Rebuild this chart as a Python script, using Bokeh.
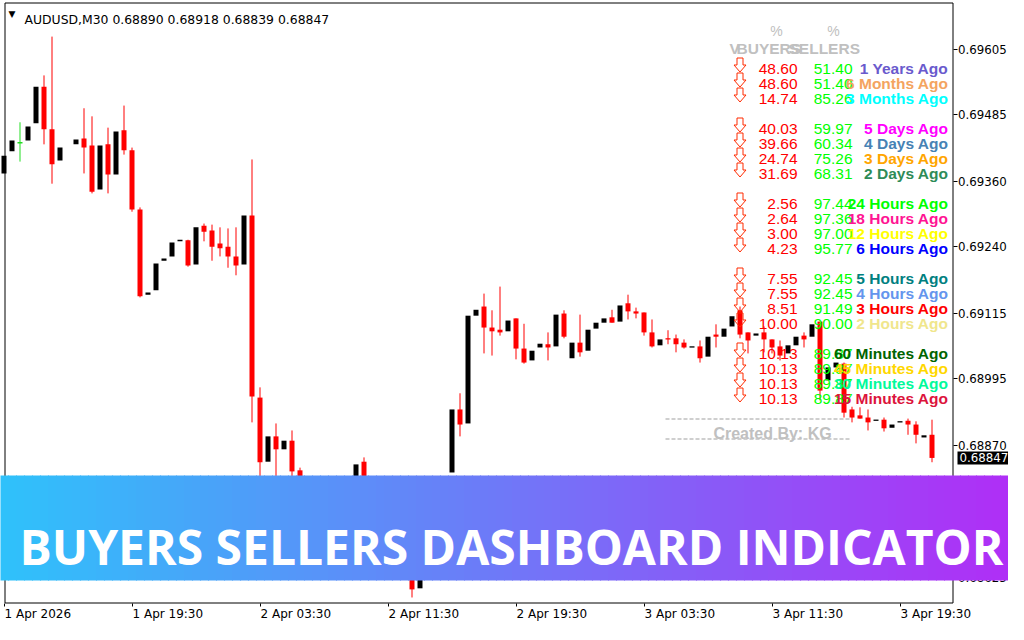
import numpy as np
from bokeh.plotting import figure
from bokeh.models import Range1d, FixedTicker, BoxAnnotation, Label
from bokeh.embed import file_html
from bokeh.resources import INLINE
from bokeh.core.properties import value

# ---------------- data ----------------
symbol_title = "AUDUSD,M30  0.68890 0.68918 0.68839 0.68847"
last_price = 0.68847

opens = [0.69375, 0.69416, 0.69432, 0.69436, 0.69468, 0.69536, 0.69457, 0.69399, None, 0.69429,
         0.69440, 0.69427, 0.69345, 0.69429, 0.69373, 0.69455, 0.69418, 0.69308, 0.69150, 0.69158,
         0.69213, 0.69221, 0.69249, 0.69251, 0.69206, 0.69278, 0.69269, 0.69245, 0.69239, 0.69221,
         0.69206, 0.69297, 0.68959, 0.68840, 0.68887, 0.68863, 0.68879, 0.68824, 0.68787, 0.68749,
         0.68759, 0.68716, 0.68684, 0.68703, 0.68768, 0.68840, 0.68809, 0.68768, 0.68731, 0.68740,
         0.68684, 0.68638, 0.68605, 0.68647, 0.68694, 0.68731, 0.68820, 0.68937, 0.68911, 0.69111,
         0.69128, 0.69089, 0.69085, 0.69082, 0.69106, 0.69050, 0.69028, 0.69052, 0.69058, 0.69054,
         0.69115, 0.69032, 0.69061, 0.69046, 0.69087, 0.69098, 0.69108, 0.69100, 0.69134, 0.69119,
         0.69117, 0.69080, 0.69056, 0.69069, 0.69069, 0.69061, 0.69052, 0.69054, 0.69035, 0.69076,
         0.69072, 0.69091, 0.69121, 0.69080, 0.69074, 0.69080, 0.69067, 0.69054, 0.69041, 0.69056,
         0.69074, 0.69072, 0.69100, 0.68991, 0.69015, 0.69022, 0.68937, 0.68926, 0.68922, 0.68916,
         0.68918, 0.68903, 0.68913, 0.68916, 0.68909, 0.68885, 0.68890]
highs = [0.69408, 0.69436, 0.69470, 0.69462, 0.69536, 0.69557, 0.69629, 0.69423, None, 0.69438,
         0.69496, 0.69481, 0.69427, 0.69460, 0.69453, 0.69501, 0.69423, 0.69312, 0.69154, 0.69208,
         0.69217, 0.69247, 0.69252, 0.69252, 0.69275, 0.69282, 0.69280, 0.69275, 0.69273, 0.69275,
         0.69297, 0.69401, 0.68978, 0.68887, 0.68911, 0.68879, 0.68898, 0.68829, 0.68796, 0.68768,
         0.68768, 0.68727, 0.68703, 0.68768, 0.68835, 0.68848, 0.68813, 0.68770, 0.68749, 0.68749,
         0.68690, 0.68647, 0.68647, 0.68694, 0.68731, 0.68805, 0.68937, 0.68967, 0.69111, 0.69122,
         0.69152, 0.69121, 0.69165, 0.69102, 0.69106, 0.69096, 0.69046, 0.69059, 0.69080, 0.69113,
         0.69121, 0.69061, 0.69113, 0.69085, 0.69098, 0.69106, 0.69122, 0.69130, 0.69150, 0.69126,
         0.69117, 0.69104, 0.69067, 0.69084, 0.69076, 0.69067, 0.69054, 0.69065, 0.69072, 0.69095,
         0.69087, 0.69110, 0.69128, 0.69080, 0.69078, 0.69091, 0.69067, 0.69065, 0.69056, 0.69072,
         0.69080, 0.69095, 0.69100, 0.69015, 0.69024, 0.69024, 0.68942, 0.68941, 0.68937, 0.68918,
         0.68922, 0.68909, 0.68915, 0.68920, 0.68915, 0.68889, 0.68918]
lows = [0.69375, 0.69416, 0.69397, 0.69436, 0.69468, 0.69429, 0.69356, 0.69399, None, 0.69429,
        0.69375, 0.69338, 0.69345, 0.69338, 0.69373, 0.69410, 0.69304, 0.69145, 0.69150, 0.69158,
        0.69213, 0.69221, 0.69249, 0.69202, 0.69206, 0.69249, 0.69213, 0.69221, 0.69200, 0.69186,
        0.69206, 0.68913, 0.68801, 0.68840, 0.68809, 0.68863, 0.68805, 0.68777, 0.68740, 0.68749,
        0.68703, 0.68675, 0.68684, 0.68703, 0.68768, 0.68801, 0.68759, 0.68725, 0.68731, 0.68680,
        0.68632, 0.68588, 0.68605, 0.68647, 0.68694, 0.68731, 0.68820, 0.68887, 0.68911, 0.69111,
        0.69041, 0.69037, 0.69074, 0.69082, 0.69030, 0.69022, 0.69028, 0.69052, 0.69028, 0.69054,
        0.69069, 0.69032, 0.69035, 0.69046, 0.69087, 0.69098, 0.69098, 0.69100, 0.69104, 0.69106,
        0.69074, 0.69052, 0.69056, 0.69058, 0.69043, 0.69050, 0.69052, 0.69024, 0.69035, 0.69052,
        0.69072, 0.69091, 0.69069, 0.69041, 0.69074, 0.69043, 0.69041, 0.69028, 0.69041, 0.69056,
        0.69052, 0.69072, 0.68954, 0.68991, 0.69015, 0.68922, 0.68913, 0.68920, 0.68898, 0.68916,
        0.68896, 0.68903, 0.68913, 0.68890, 0.68874, 0.68885, 0.68839]
closes = [0.69408, 0.69436, 0.69432, 0.69462, 0.69536, 0.69457, 0.69392, 0.69423, None, 0.69438,
          0.69423, 0.69341, 0.69427, 0.69373, 0.69453, 0.69418, 0.69308, 0.69147, 0.69154, 0.69208,
          0.69217, 0.69247, 0.69252, 0.69204, 0.69275, 0.69267, 0.69239, 0.69236, 0.69221, 0.69204,
          0.69297, 0.68961, 0.68839, 0.68887, 0.68863, 0.68879, 0.68822, 0.68787, 0.68749, 0.68768,
          0.68712, 0.68684, 0.68703, 0.68768, 0.68835, 0.68809, 0.68768, 0.68731, 0.68749, 0.68684,
          0.68638, 0.68603, 0.68647, 0.68694, 0.68731, 0.68805, 0.68937, 0.68909, 0.69111, 0.69122,
          0.69089, 0.69082, 0.69080, 0.69102, 0.69050, 0.69024, 0.69046, 0.69059, 0.69052, 0.69113,
          0.69072, 0.69061, 0.69043, 0.69085, 0.69098, 0.69106, 0.69098, 0.69130, 0.69119, 0.69115,
          0.69080, 0.69054, 0.69067, 0.69067, 0.69058, 0.69052, 0.69054, 0.69032, 0.69072, 0.69072,
          0.69087, 0.69110, 0.69076, 0.69065, 0.69078, 0.69067, 0.69052, 0.69037, 0.69056, 0.69072,
          0.69067, 0.69095, 0.68972, 0.69015, 0.69024, 0.68931, 0.68922, 0.68920, 0.68913, 0.68918,
          0.68902, 0.68909, 0.68915, 0.68909, 0.68890, 0.68889, 0.68847]

price_ticks = [0.69605, 0.69485, 0.69360, 0.69240, 0.69115, 0.68995, 0.68870, 0.68750, 0.68625]
price_tick_labels = ["0.69605", "0.69485", "0.69360", "0.69240", "0.69115", "0.68995",
                     "0.68870", "0.68750", "0.68625"]
date_tick_bars = [0, 16, 32, 48, 64, 80, 96, 112]
date_tick_labels = ["1 Apr 2026", "1 Apr 19:30", "2 Apr 03:30", "2 Apr 11:30",
                    "2 Apr 19:30", "3 Apr 03:30", "3 Apr 11:30", "3 Apr 19:30"]

periods = ["1 Years Ago", "6 Months Ago", "3 Months Ago",
           "5 Days Ago", "4 Days Ago", "3 Days Ago", "2 Days Ago",
           "24 Hours Ago", "18 Hours Ago", "12 Hours Ago", "6 Hours Ago",
           "5 Hours Ago", "4 Hours Ago", "3 Hours Ago", "2 Hours Ago",
           "60 Minutes Ago", "45 Minutes Ago", "30 Minutes Ago", "15 Minutes Ago"]
buyers_pct = [48.60, 48.60, 14.74, 40.03, 39.66, 24.74, 31.69, 2.56, 2.64, 3.00, 4.23,
              7.55, 7.55, 8.51, 10.00, 10.13, 10.13, 10.13, 10.13]
sellers_pct = [51.40, 51.40, 85.26, 59.97, 60.34, 75.26, 68.31, 97.44, 97.36, 97.00, 95.77,
               92.45, 92.45, 91.49, 90.00, 89.87, 89.87, 89.87, 89.87]
period_colors = ["#6A5ACD", "#F4A460", "#00FFFF", "#FF00FF", "#4682B4", "#FFA500", "#2E8B57",
                 "#00FF00", "#FF1493", "#FFFF00", "#0000FF", "#008080", "#6495ED", "#FF0000",
                 "#F0E68C", "#006400", "#FFD700", "#00FA9A", "#DC143C"]
group_sizes = [3, 4, 4, 4, 4]
banner_text = "BUYERS SELLERS DASHBOARD INDICATOR"
credit_text = "Created By: KG"

# ---------------- layout helpers (pixel geometry of the reference) ----------------
W, H = 1008, 624
PXC = 8.0             # pixels per bar
DPP = 1.856e-5        # price per pixel
X_START = -3.5 / PXC  # bar k is centred on pixel 3.5 + 8k
Y_TOP = 0.69696       # price at pixel row 0
AXIS_Y = 602.5        # bottom border / time axis row


def X(px):
    return X_START + px / PXC


def Y(py):
    return Y_TOP - py * DPP


p = figure(width=W, height=H, output_backend="svg", toolbar_location=None,
           x_range=Range1d(X(0), X(W)), y_range=Range1d(Y(H), Y(0)),
           y_axis_location="right",
           min_border_left=0, min_border_top=0, min_border_right=0, min_border_bottom=0)
p.xgrid.visible = False
p.ygrid.visible = False
p.outline_line_color = None
p.background_fill_color = "white"
p.border_fill_color = "white"

# chart border (MT4 frame)
p.segment(x0=[X(4.5), X(4.5), X(952.5), X(4.5)], y0=[Y(2.5), Y(2.5), Y(2.5), Y(AXIS_Y)],
          x1=[X(952.5), X(4.5), X(952.5), X(952.5)], y1=[Y(2.5), Y(AXIS_Y), Y(AXIS_Y), Y(AXIS_Y)],
          line_color="black", line_width=1)

# price axis (right), pinned at the frame border
yax = p.yaxis[0]
yax.fixed_location = X(952.5)
yax.ticker = FixedTicker(ticks=price_ticks)
yax.major_label_overrides = {t: s for t, s in zip(price_ticks, price_tick_labels)}
yax.major_tick_out = 4
yax.major_tick_in = 0
yax.minor_tick_out = 0
yax.minor_tick_in = 0
yax.major_label_standoff = 1
yax.axis_line_color = None
yax.major_tick_line_color = "black"
yax.major_label_text_font = "DejaVu Sans"
yax.major_label_text_font_size = "11.8px"
yax.major_label_text_color = "black"

# time axis (bottom): tick marks at the bars, labels start at the tick
label_half = [33.3, 35.3, 35.3, 35.3, 35.3, 35.3, 35.3, 35.3]
label_pos = [b + (0.5 + h) / PXC for b, h in zip(date_tick_bars, label_half)]
xax = p.xaxis[0]
xax.fixed_location = Y(AXIS_Y)
xax.ticker = FixedTicker(ticks=label_pos, minor_ticks=list(date_tick_bars))
xax.major_label_overrides = {t: s for t, s in zip(label_pos, date_tick_labels)}
xax.major_tick_out = 0
xax.major_tick_in = 0
xax.minor_tick_out = 3
xax.minor_tick_in = 0
xax.minor_tick_line_color = "black"
xax.major_label_standoff = 1
xax.axis_line_color = None
xax.major_label_text_font = "DejaVu Sans"
xax.major_label_text_font_size = "12px"
xax.major_label_text_color = "black"

# ---------------- candles ----------------
idx = [k for k in range(len(opens)) if opens[k] is not None]
MIN_BODY = 1.3 * DPP


def body(k):
    top, bot = max(opens[k], closes[k]), min(opens[k], closes[k])
    if top - bot < MIN_BODY:
        mid = (top + bot) / 2
        top, bot = mid + MIN_BODY / 2, mid - MIN_BODY / 2
    return top, bot


bear = [k for k in idx if closes[k] < opens[k]]
bull = [k for k in idx if closes[k] > opens[k]]
doji = [k for k in idx if closes[k] == opens[k]]

p.segment(x0=bear, x1=bear, y0=[lows[k] for k in bear], y1=[highs[k] for k in bear],
          line_color="#FF0000", line_width=1)
p.vbar(x=bear, width=5 / PXC, top=[body(k)[0] for k in bear], bottom=[body(k)[1] for k in bear],
       fill_color="#FF0000", line_color=None)
p.vbar(x=bull, width=5 / PXC, top=[body(k)[0] for k in bull], bottom=[body(k)[1] for k in bull],
       fill_color="black", line_color=None)
p.segment(x0=doji, x1=doji, y0=[lows[k] for k in doji], y1=[highs[k] for k in doji],
          line_color="#22DD22", line_width=1)
p.vbar(x=doji, width=5 / PXC, top=[body(k)[0] for k in doji], bottom=[body(k)[1] for k in doji],
       fill_color="#22DD22", line_color=None)

# ---------------- title ----------------
p.text(x=[X(11.5)], y=[Y(13.5)], text=["\u25BC"], text_align="center", text_baseline="middle",
       text_font=value("DejaVu Sans"), text_font_size="9px", text_color="black")
p.text(x=[X(24)], y=[Y(19)], text=[symbol_title], text_align="left", text_baseline="alphabetic",
       text_font=value("DejaVu Sans"), text_font_size="12.4px", text_color="black")

# ---------------- dashboard ----------------
slots = []
s = 0
for g in group_sizes:
    for _ in range(g):
        slots.append(s)
        s += 1
    s += 1
row_mid = [62.5 + 15 * sl for sl in slots]
row_base = [Y(m + 5.5) for m in row_mid]
FONT = value("Liberation Sans")
FS = "15.5px"

hdr = "#C0C0C0"
p.text(x=[X(776), X(833)], y=[Y(30), Y(30)], text=["%", "%"], text_align="center",
       text_baseline="alphabetic", text_font=FONT, text_font_size="14px", text_color=hdr)
p.text(x=[X(729), X(736), X(788)], y=[Y(48)] * 3, text=["V", "BUYERS", "SELLERS"],
       text_align="left", text_baseline="alphabetic", text_font=FONT, text_font_size=FS,
       text_font_style="bold", text_color=hdr)

# hollow "down" arrows in front of each row
arrow_dx = [-3, 3, 3, 6, 0, -6, -3]
arrow_dy = [0, 0, 7, 7, 14, 7, 7]
arrow_xs = [[X(739.5 + dx) for dx in arrow_dx] for _ in row_mid]
arrow_ys = [[Y(m - 5 + dy) for dy in arrow_dy] for m in row_mid]
p.patches(xs=arrow_xs, ys=arrow_ys, fill_color="white", fill_alpha=0.0,
          line_color="#FF2A00", line_width=1)

p.text(x=[X(797)] * len(slots), y=row_base, text=[f"{v:.2f}" for v in buyers_pct],
       text_align="right", text_baseline="alphabetic", text_font=FONT, text_font_size=FS,
       text_color="#FF0000")
p.text(x=[X(852)] * len(slots), y=row_base, text=[f"{v:.2f}" for v in sellers_pct],
       text_align="right", text_baseline="alphabetic", text_font=FONT, text_font_size=FS,
       text_color="#00FF00")
p.text(x=[X(948)] * len(slots), y=row_base, text=periods, text_align="right",
       text_baseline="alphabetic", text_font=FONT, text_font_size=FS, text_font_style="bold",
       text_color=period_colors)

# credit box
p.line(x=[X(665), X(849)], y=[Y(418.5)] * 2, line_color="#C0C0C0", line_width=1.5, line_dash="4 2")
p.line(x=[X(665), X(849)], y=[Y(438.5)] * 2, line_color="#C0C0C0", line_width=1.5, line_dash="4 2")
p.text(x=[X(772)], y=[Y(433)], text=[credit_text], text_align="center", text_baseline="alphabetic",
       text_font=FONT, text_font_size="16px", text_font_style="bold", text_color="#C0C0C0")

# current price tag on the axis
p.add_layout(Label(x=X(957), y=last_price, text=f"{last_price:.5f}", text_color="white",
                   background_fill_color="black", text_font="DejaVu Sans", text_font_size="11.8px",
                   text_baseline="middle", text_align="left", padding=2))

# ---------------- gradient banner ----------------
c_left = np.array([46, 194, 250])
c_right = np.array([178, 44, 246])
n_strips = 128
for i in range(n_strips):
    x_left = i * 8
    t = (x_left + 4) / 1024
    c = (1 - t) * c_left + t * c_right
    col = "#%02x%02x%02x" % tuple(int(round(v)) for v in c)
    p.add_layout(BoxAnnotation(left=X(x_left - 0.5), right=X(x_left + 8.5), top=Y(475), bottom=Y(580),
                               fill_color=col, fill_alpha=1.0, line_color=None, level="overlay"))
p.add_layout(Label(x=X(511), y=Y(546), text=banner_text, text_color="white",
                   text_font="Open Sans", text_font_size="48px", text_font_style="bold",
                   text_align="center", text_baseline="alphabetic", level="overlay"))

open("out.html", "w").write(file_html(p, INLINE))
